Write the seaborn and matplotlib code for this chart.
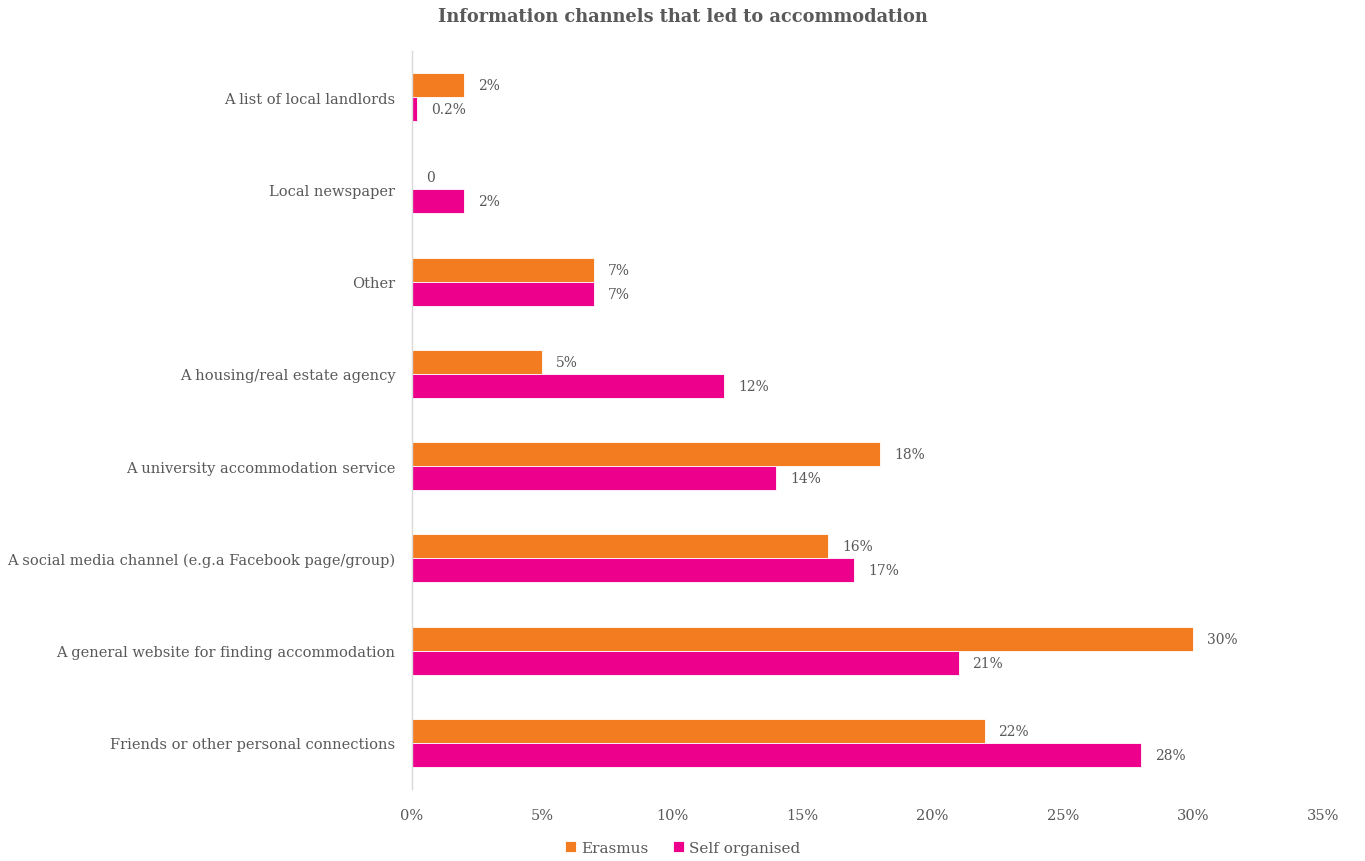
import pandas as pd
import matplotlib.pyplot as plt
import seaborn as sns

# data (percent)
channels = [
    "A list of local landlords",
    "Local newspaper",
    "Other",
    "A housing/real estate agency",
    "A university accommodation service",
    "A social media channel (e.g.a Facebook page/group)",
    "A general website for finding accommodation",
    "Friends or other personal connections",
]
erasmus = [2, 0, 7, 5, 18, 16, 30, 22]
self_organised = [0.2, 2, 7, 12, 14, 17, 21, 28]
groups = ["Erasmus", "Self organised"]
xticks = [0, 5, 10, 15, 20, 25, 30, 35]

colors = {"Erasmus": "#F47C20", "Self organised": "#EC008C"}
text_grey = "#595959"

df = pd.DataFrame({
    "channel": channels * 2,
    "value": erasmus + self_organised,
    "group": [groups[0]] * len(channels) + [groups[1]] * len(channels),
})

sns.set_style("white")
plt.rcParams["font.family"] = ["DejaVu Serif", "DejaVu Sans"]

fig = plt.figure(figsize=(13.65, 8.62), dpi=100)
ax = fig.add_axes([0.3018, 0.0835, 0.6674, 0.8562])

sns.barplot(data=df, x="value", y="channel", hue="group", order=channels,
            hue_order=groups, palette=colors, orient="h", width=0.52,
            saturation=1, edgecolor="white", linewidth=0.6, ax=ax)

# value labels beside the bars
for cont in ax.containers:
    vals = cont.datavalues
    labels = [f"{v:g}%" if v else "0" for v in vals]
    ax.bar_label(cont, labels=labels, padding=10, fontsize=10, color=text_grey)

ax.set_xlim(0, 35)
ax.set_ylim(7.5, -0.5)
ax.set_xticks(xticks)
ax.set_xticklabels([f"{t}%" for t in xticks], fontsize=10.5, color=text_grey)
ax.tick_params(axis="x", length=0, pad=14)
ax.tick_params(axis="y", length=0, pad=12, labelsize=10.5, labelcolor=text_grey)
ax.set_xlabel("")
ax.set_ylabel("")

for side in ["top", "right", "bottom"]:
    ax.spines[side].set_visible(False)
ax.spines["left"].set_color("#d9d9d9")
ax.spines["left"].set_linewidth(1)

fig.text(0.5, 1 - 17 / 862, "Information channels that led to accommodation",
         ha="center", va="center", fontsize=12.8, fontweight="bold", color=text_grey)

ax.get_legend().remove()
handles, labels = ax.get_legend_handles_labels()
fig.legend(handles, labels, loc="center", bbox_to_anchor=(0.5, 1 - 849 / 862),
           ncol=2, frameon=False, fontsize=11, handlelength=0.75, handleheight=0.75,
           handletextpad=0.3, columnspacing=1.6, labelcolor=text_grey)

fig.savefig("out.png", dpi=100, facecolor="white")
